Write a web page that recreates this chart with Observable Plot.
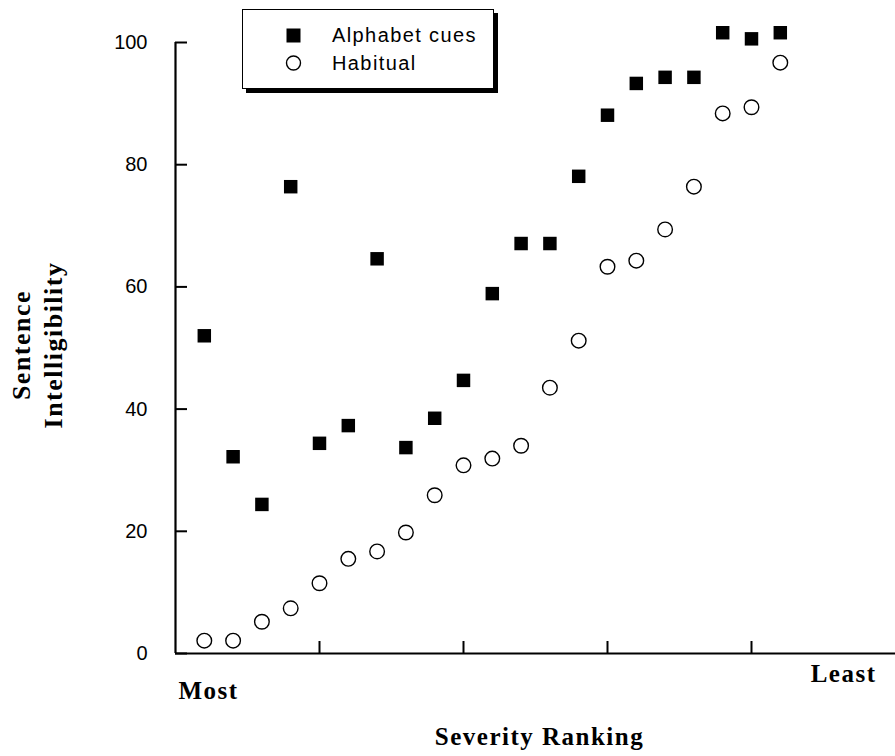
<!DOCTYPE html>
<html>
<head>
<meta charset="utf-8">
<script src="https://cdn.jsdelivr.net/npm/d3@7"></script>
<script src="https://cdn.jsdelivr.net/npm/@observablehq/plot@0.6"></script>
<style>
  html, body { margin: 0; padding: 0; background: #fff; }
  #wrap { position: relative; width: 895px; height: 756px; }
  #legend {
    position: absolute; left: 242px; top: 9px; width: 250px; height: 78px;
    border: 1.5px solid #000; box-shadow: 4px 4px 0 #000; background: #fff;
    font-family: "Liberation Sans", Arial, sans-serif; font-size: 20px; letter-spacing: 1.4px;
  }
  #legend svg { position: absolute; left: 0; top: 0; }
  #legend .lbl { position: absolute; left: 89px; white-space: nowrap; line-height: 26px; }
</style>
</head>
<body>
<div id="wrap"></div>
<script>
// Data
const rank = [1, 2, 3, 4, 5, 6, 7, 8, 9, 10, 11, 12, 13, 14, 15, 16, 17, 18, 19, 20, 21];
const alphabetCues = [52, 32.2, 24.4, 76.4, 34.4, 37.3, 64.6, 33.7, 38.5, 44.7, 58.9, 67.1, 67.1, 78.1, 88.1, 93.3, 94.3, 94.3, 101.6, 100.6, 101.6];
const habitual = [2.1, 2.1, 5.2, 7.4, 11.5, 15.5, 16.7, 19.8, 25.9, 30.8, 31.9, 34.0, 43.5, 51.2, 63.3, 64.3, 69.4, 76.4, 88.4, 89.4, 96.7];
const yTicks = [0, 20, 40, 60, 80, 100];
const xTicks = [5, 10, 15, 20];
const seriesNames = ["Alphabet cues", "Habitual"];

const cues = rank.map((r, i) => ({rank: r, value: alphabetCues[i]}));
const hab = rank.map((r, i) => ({rank: r, value: habitual[i]}));

const serif = "'Liberation Serif', 'Times New Roman', serif";

const chart = Plot.plot({
  width: 895,
  height: 756,
  marginLeft: 175,
  marginRight: 0,
  marginTop: 42,
  marginBottom: 103,
  style: {fontFamily: "'Liberation Sans', Arial, sans-serif", fontSize: "20px", color: "#000", background: "#fff"},
  x: {domain: [0, 25]},
  y: {domain: [0, 100]},
  marks: [
    Plot.axisY({ticks: yTicks, tickSize: -12, tickPadding: 40, strokeWidth: 2, label: null, tickFormat: d => String(d)}),
    Plot.axisX({ticks: xTicks, tickSize: -12, strokeWidth: 2, fill: "none", label: null}),
    Plot.ruleX([0], {y1: 0, y2: 100, strokeWidth: 2.2}),
    Plot.ruleY([0], {strokeWidth: 2.2}),
    Plot.dot(hab, {x: "rank", y: "value", r: 7.3, stroke: "#000", strokeWidth: 1.4, fill: "#fff"}),
    Plot.dot(cues, {x: "rank", y: "value", r: 7.6, symbol: "square", fill: "#000", stroke: "none"}),
    Plot.text(["Sentence\nIntelligibility"], {frameAnchor: "left", textAnchor: "middle", rotate: -90, dx: -140, dy: -3, lineHeight: 1.23, fontFamily: serif, fontWeight: "bold", fontSize: 26}),
    Plot.text(["Most"], {frameAnchor: "bottom-left", textAnchor: "start", dx: 3, dy: 45, fontFamily: serif, fontWeight: "bold", fontSize: 25}),
    Plot.text(["Least"], {frameAnchor: "bottom-right", textAnchor: "end", dx: -19, dy: 28, fontFamily: serif, fontWeight: "bold", fontSize: 25}),
    Plot.text(["Severity Ranking"], {frameAnchor: "bottom", dx: 4, dy: 91, fontFamily: serif, fontWeight: "bold", fontSize: 25})
  ]
});

// letter spacing for serif labels
d3.select(chart).selectAll("text").filter(function() {
  return (this.getAttribute("font-family") || "").includes("Serif") || (this.parentNode && (this.parentNode.getAttribute("font-family") || "").includes("Serif"));
}).style("letter-spacing", "1.5px");

const wrap = document.getElementById("wrap");
wrap.appendChild(chart);

// Legend
const legend = document.createElement("div");
legend.id = "legend";
const sw = d3.create("svg").attr("width", 250).attr("height", 78);
sw.append("rect").attr("x", 43.5).attr("y", 18.5).attr("width", 14).attr("height", 14).attr("fill", "#000");
sw.append("circle").attr("cx", 50.5).attr("cy", 53).attr("r", 7).attr("fill", "#fff").attr("stroke", "#000").attr("stroke-width", 1.4);
legend.appendChild(sw.node());
seriesNames.forEach((name, i) => {
  const s = document.createElement("div");
  s.className = "lbl";
  s.style.top = (12 + i * 28) + "px";
  s.textContent = name;
  legend.appendChild(s);
});
wrap.appendChild(legend);
</script>
</body>
</html>
